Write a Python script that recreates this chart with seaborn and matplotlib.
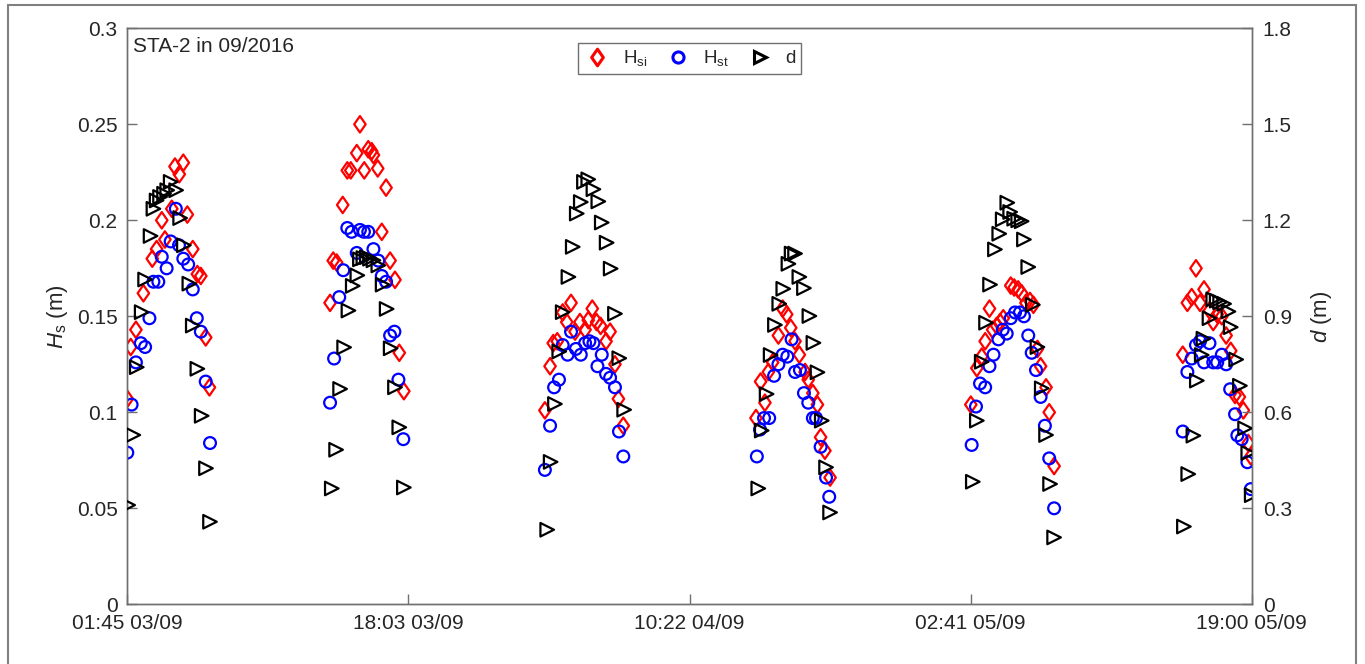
import numpy as np
import pandas as pd
import matplotlib
matplotlib.use("Agg")
import matplotlib.pyplot as plt
from matplotlib.path import Path
from matplotlib.lines import Line2D
from matplotlib.patches import Rectangle
import seaborn as sns

# ---- data (time in minutes after 01:45 03/09/2016) ----
hsi_t = [0, 12, 30, 56, 87, 102, 120, 131, 155, 166, 181, 195, 209, 228, 244, 256, 273, 286,
         706, 717, 729, 750, 766, 778, 799, 810, 825, 839, 851, 857, 872, 886, 901, 915, 932, 947, 963,
         1454, 1472, 1483, 1497, 1516, 1530, 1545, 1559, 1576, 1594, 1605, 1619, 1634, 1648, 1667, 1681, 1698, 1710, 1727,
         2189, 2205, 2220, 2232, 2247, 2267, 2282, 2296, 2310, 2325, 2340, 2360, 2371, 2387, 2403, 2414, 2429, 2447,
         2937, 2958, 2975, 2987, 3002, 3013, 3027, 3039, 3050, 3076, 3088, 3102, 3114, 3129, 3143, 3155, 3169, 3180, 3199, 3210, 3227,
         3675, 3691, 3706, 3721, 3735, 3749, 3768, 3781, 3795, 3811, 3826, 3842, 3857, 3872, 3886, 3903, 3912]
hsi_v = [0.107, 0.134, 0.143, 0.162, 0.180, 0.185, 0.200, 0.190, 0.206, 0.228, 0.224, 0.230, 0.203, 0.185, 0.172, 0.171, 0.139, 0.113,
         0.157, 0.179, 0.178, 0.208, 0.226, 0.226, 0.235, 0.250, 0.226, 0.237, 0.236, 0.234, 0.227, 0.194, 0.217, 0.179, 0.169, 0.131, 0.111,
         0.101, 0.124, 0.136, 0.137, 0.152, 0.147, 0.157, 0.142, 0.147, 0.143, 0.148, 0.154, 0.147, 0.145, 0.137, 0.142, 0.125, 0.107, 0.093,
         0.097, 0.116, 0.105, 0.121, 0.126, 0.140, 0.154, 0.151, 0.144, 0.137, 0.130, 0.121, 0.117, 0.110, 0.104, 0.087, 0.080, 0.066,
         0.104, 0.123, 0.129, 0.137, 0.154, 0.143, 0.145, 0.147, 0.149, 0.166, 0.165, 0.164, 0.162, 0.157, 0.158, 0.156, 0.133, 0.124, 0.113, 0.100, 0.072,
         0.130, 0.157, 0.160, 0.175, 0.157, 0.164, 0.153, 0.147, 0.151, 0.150, 0.140, 0.132, 0.109, 0.108, 0.101, 0.084, 0.077]

hst_t = [0, 15, 30, 47, 62, 77, 91, 108, 120, 137, 151, 169, 180, 195, 212, 228, 242, 256, 273, 288,
         706, 720, 738, 752, 766, 781, 799, 810, 824, 839, 857, 874, 886, 901, 915, 930, 944, 961,
         1454, 1472, 1486, 1503, 1516, 1533, 1545, 1562, 1579, 1594, 1609, 1623, 1637, 1652, 1667, 1681, 1698, 1712, 1727,
         2192, 2203, 2217, 2235, 2252, 2267, 2282, 2298, 2313, 2325, 2342, 2356, 2371, 2387, 2398, 2414, 2433, 2444,
         2940, 2955, 2969, 2987, 3002, 3016, 3033, 3048, 3062, 3076, 3091, 3108, 3122, 3137, 3149, 3164, 3180, 3195, 3210, 3227,
         3675, 3691, 3706, 3721, 3735, 3749, 3768, 3781, 3795, 3811, 3826, 3840, 3857, 3865, 3880, 3900, 3912]
hst_v = [0.079, 0.104, 0.126, 0.136, 0.134, 0.149, 0.168, 0.168, 0.181, 0.175, 0.189, 0.206, 0.187, 0.180, 0.177, 0.164, 0.149, 0.142, 0.116, 0.084,
         0.105, 0.128, 0.160, 0.174, 0.196, 0.194, 0.183, 0.195, 0.194, 0.194, 0.185, 0.179, 0.171, 0.168, 0.140, 0.142, 0.117, 0.086,
         0.070, 0.093, 0.113, 0.117, 0.135, 0.130, 0.142, 0.133, 0.130, 0.136, 0.137, 0.136, 0.124, 0.130, 0.120, 0.118, 0.113, 0.090, 0.077,
         0.077, 0.091, 0.097, 0.097, 0.119, 0.125, 0.130, 0.129, 0.138, 0.121, 0.122, 0.110, 0.105, 0.097, 0.097, 0.082, 0.066, 0.056,
         0.083, 0.103, 0.115, 0.113, 0.124, 0.130, 0.138, 0.143, 0.141, 0.149, 0.152, 0.152, 0.150, 0.140, 0.131, 0.122, 0.108, 0.093, 0.076, 0.050,
         0.090, 0.121, 0.128, 0.135, 0.137, 0.126, 0.136, 0.126, 0.126, 0.130, 0.125, 0.112, 0.099, 0.088, 0.086, 0.074, 0.060]

d_t = [3, 21, 33, 50, 62, 81, 91, 102, 114, 128, 139, 151, 170, 184, 197, 216, 228, 244, 259, 274, 288,
       712, 727, 741, 755, 770, 785, 801, 810, 822, 834, 845, 857, 874, 889, 903, 917, 932, 947, 963,
       1462, 1474, 1489, 1504, 1516, 1536, 1551, 1565, 1579, 1590, 1605, 1623, 1640, 1652, 1669, 1683, 1698, 1713, 1730,
       2197, 2209, 2226, 2240, 2255, 2270, 2284, 2302, 2313, 2325, 2340, 2356, 2375, 2389, 2403, 2418, 2433, 2447,
       2944, 2958, 2975, 2990, 3004, 3021, 3036, 3048, 3064, 3074, 3088, 3102, 3114, 3122, 3137, 3153, 3169, 3184, 3199, 3213, 3227,
       3679, 3694, 3712, 3724, 3741, 3747, 3768, 3781, 3793, 3805, 3819, 3834, 3842, 3861, 3874, 3892, 3903, 3915]
d_v = [0.310, 0.529, 0.741, 0.913, 1.015, 1.151, 1.236, 1.262, 1.273, 1.283, 1.294, 1.320, 1.294, 1.207, 1.122, 1.002, 0.871, 0.736, 0.589, 0.425, 0.258,
       0.362, 0.483, 0.673, 0.803, 0.918, 0.995, 1.028, 1.078, 1.082, 1.085, 1.080, 1.075, 1.059, 0.999, 0.923, 0.800, 0.678, 0.553, 0.365,
       0.233, 0.445, 0.626, 0.790, 0.913, 1.023, 1.117, 1.221, 1.257, 1.320, 1.328, 1.297, 1.259, 1.193, 1.130, 1.049, 0.908, 0.769, 0.608,
       0.362, 0.543, 0.657, 0.779, 0.873, 0.939, 0.986, 1.064, 1.096, 1.096, 1.023, 0.988, 0.901, 0.817, 0.725, 0.574, 0.428, 0.287,
       0.383, 0.574, 0.758, 0.880, 0.999, 1.109, 1.158, 1.203, 1.255, 1.226, 1.205, 1.200, 1.197, 1.140, 1.054, 0.936, 0.804, 0.675, 0.529, 0.376, 0.209,
       0.243, 0.407, 0.527, 0.699, 0.779, 0.830, 0.894, 0.953, 0.949, 0.944, 0.939, 0.915, 0.866, 0.765, 0.683, 0.550, 0.473, 0.341]

x_tick_labels = ["01:45 03/09", "18:03 03/09", "10:22 04/09", "02:41 05/09", "19:00 05/09"]
x_span_min = 3915
hs_ticks = [0, 0.05, 0.1, 0.15, 0.2, 0.25, 0.3]
hs_tick_labels = ["0", "0.05", "0.1", "0.15", "0.2", "0.25", "0.3"]
d_ticks = [0, 0.3, 0.6, 0.9, 1.2, 1.5, 1.8]
d_tick_labels = ["0", "0.3", "0.6", "0.9", "1.2", "1.5", "1.8"]
title_text = "STA-2 in 09/2016"

# ---- style ----
sns.set_theme(style="white")
plt.rcParams["font.family"] = ["Liberation Sans", "DejaVu Sans"]
plt.rcParams["mathtext.fontset"] = "custom"
plt.rcParams["mathtext.rm"] = "Liberation Sans"
plt.rcParams["mathtext.it"] = "Liberation Sans:italic"

df_si = pd.DataFrame({"t": np.array(hsi_t) / 60.0, "v": hsi_v})
df_st = pd.DataFrame({"t": np.array(hst_t) / 60.0, "v": hst_v})
df_d = pd.DataFrame({"t": np.array(d_t) / 60.0, "v": d_v})

diamond = Path([(0, 1), (0.7, 0), (0, -1), (-0.7, 0), (0, 1)],
               [Path.MOVETO, Path.LINETO, Path.LINETO, Path.LINETO, Path.CLOSEPOLY])

W, H = 1365, 664
fig = plt.figure(figsize=(W / 100, H / 100), dpi=100)
ax = fig.add_axes([127.3 / W, 1 - 604.3 / H, 1124.4 / W, 576 / H])
ax2 = ax.twinx()

lw = 1.6
sns.scatterplot(data=df_si, x="t", y="v", ax=ax, marker=diamond, s=140,
                facecolor="none", edgecolor="#ff0000", linewidth=lw, zorder=3)
sns.scatterplot(data=df_st, x="t", y="v", ax=ax, marker="o", s=72,
                facecolor="none", edgecolor="#0000ff", linewidth=lw, zorder=3)
sns.scatterplot(data=df_d, x="t", y="v", ax=ax2, marker=">", s=95,
                facecolor="none", edgecolor="#000000", linewidth=lw, zorder=3)

xmax = x_span_min / 60.0
ax.set_xlim(0, xmax)
ax.set_ylim(0, 0.3)
ax2.set_ylim(0, 1.8)
ax.set_xticks(np.linspace(0, xmax, len(x_tick_labels)))
ax.set_xticklabels(x_tick_labels)
ax.set_yticks(hs_ticks)
ax.set_yticklabels(hs_tick_labels)
ax2.set_yticks(d_ticks)
ax2.set_yticklabels(d_tick_labels)

spine_c = "#707070"
txt_c = "#262626"
for a in (ax, ax2):
    for sp in a.spines.values():
        sp.set_color(spine_c)
        sp.set_linewidth(1.0)
        sp.set_visible(True)
    a.set_xlabel("")
    a.grid(False)
ax.tick_params(axis="x", direction="in", length=7, width=1, color=spine_c,
               labelsize=15, labelcolor=txt_c, pad=7, bottom=True, top=False)
ax.tick_params(axis="y", direction="in", length=7, width=1, color=spine_c,
               labelsize=15, labelcolor=txt_c, pad=7, left=True, right=False)
ax2.tick_params(axis="y", direction="in", length=7, width=1, color=spine_c,
                labelsize=15, labelcolor=txt_c, pad=8, left=False, right=True)

ax.set_ylabel(r"$H_\mathrm{s}$ (m)", fontsize=16, color=txt_c, labelpad=5)
ax2.set_ylabel(r"$d$ (m)", fontsize=16, color=txt_c, labelpad=12)

ax.text(0.005, 0.985, title_text, transform=ax.transAxes, ha="left", va="top",
        fontsize=15, color=txt_c)

handles = [
    Line2D([], [], linestyle="none", marker=diamond, markersize=12, markerfacecolor="none",
           markeredgecolor="#ff0000", markeredgewidth=2.2),
    Line2D([], [], linestyle="none", marker="o", markersize=8, markerfacecolor="none",
           markeredgecolor="#0000ff", markeredgewidth=2.2),
    Line2D([], [], linestyle="none", marker=">", markersize=9, markerfacecolor="none",
           markeredgecolor="#000000", markeredgewidth=2.2),
]
labels = [r"H$_\mathrm{si}$", r"H$_\mathrm{st}$", "d"]
leg = ax2.legend(handles, labels, loc="upper center", bbox_to_anchor=(0.5, 0.975), ncol=3,
                 frameon=True, fancybox=False, fontsize=13.5, handlelength=1.5,
                 handletextpad=0.6, columnspacing=0.9, borderpad=0.3, borderaxespad=0,
                 framealpha=1)
leg.get_frame().set_edgecolor(spine_c)
leg.get_frame().set_linewidth(1.0)

fig.patches.append(Rectangle((8 / W, -0.01), 1348 / W, 1 - 5 / H + 0.01, transform=fig.transFigure,
                             fill=False, edgecolor="#808080", linewidth=1.5))

fig.savefig("out.png", dpi=100, facecolor="white")
